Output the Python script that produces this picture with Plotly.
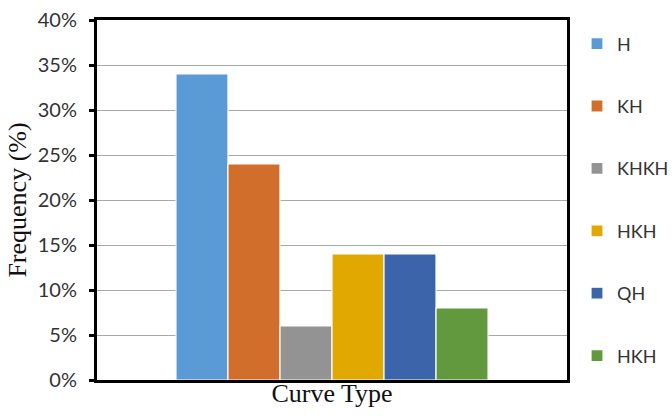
import plotly.graph_objects as go

names = ["H", "KH", "KHKH", "HKH", "QH", "HKH"]
values = [34, 24, 6, 14, 14, 8]
colors = ["#5B9BD5", "#D26E2B", "#939393", "#E0A800", "#3C64AA", "#62993E"]
category = ["Curve Type"]
y_ticks = [0, 5, 10, 15, 20, 25, 30, 35, 40]
y_ticktext = [f"{v}%" for v in y_ticks]

fig = go.Figure()
for i, (n, v, c) in enumerate(zip(names, values, colors)):
    fig.add_trace(go.Bar(
        x=category, y=[v], name=n, legendgroup=f"g{i}",
        marker=dict(color=c, line=dict(color="white", width=1.2)),
    ))

fig.update_layout(
    width=672, height=418,
    margin=dict(l=97, r=105, t=20, b=38, autoexpand=False),
    paper_bgcolor="white", plot_bgcolor="white",
    barmode="group", bargap=0.336, bargroupgap=0,
    showlegend=True,
    legend=dict(
        x=(577 - 97) / 470, xanchor="left", y=0.985, yanchor="top",
        font=dict(family="Lato", size=18, color="#333333"),
        tracegroupgap=36, itemwidth=30, maxheight=400,
        bgcolor="rgba(0,0,0,0)",
    ),
    font=dict(family="Lato", color="#333333"),
)
fig.update_xaxes(
    showticklabels=False, ticks="", showgrid=False,
    showline=True, linecolor="black", linewidth=3, mirror=True,
    title=dict(text="Curve Type", font=dict(family="Liberation Serif", size=26, color="#111111"), standoff=2),
)
fig.update_yaxes(
    range=[0, 40], tickvals=y_ticks, ticktext=y_ticktext,
    ticks="outside", ticklen=5, tickwidth=3, tickcolor="black",
    tickfont=dict(family="Lato", size=20, color="#333333"),
    ticklabelstandoff=8,
    showgrid=True, gridcolor="#A8A8A8", gridwidth=1,
    showline=True, linecolor="black", linewidth=3, mirror=True,
    zeroline=False,
    title=dict(text="Frequency (%)", font=dict(family="Liberation Serif", size=26, color="#111111"), standoff=4),
)

fig.write_html("out.html", config={"displayModeBar": False},
               post_script="document.body.style.margin='0px';")
